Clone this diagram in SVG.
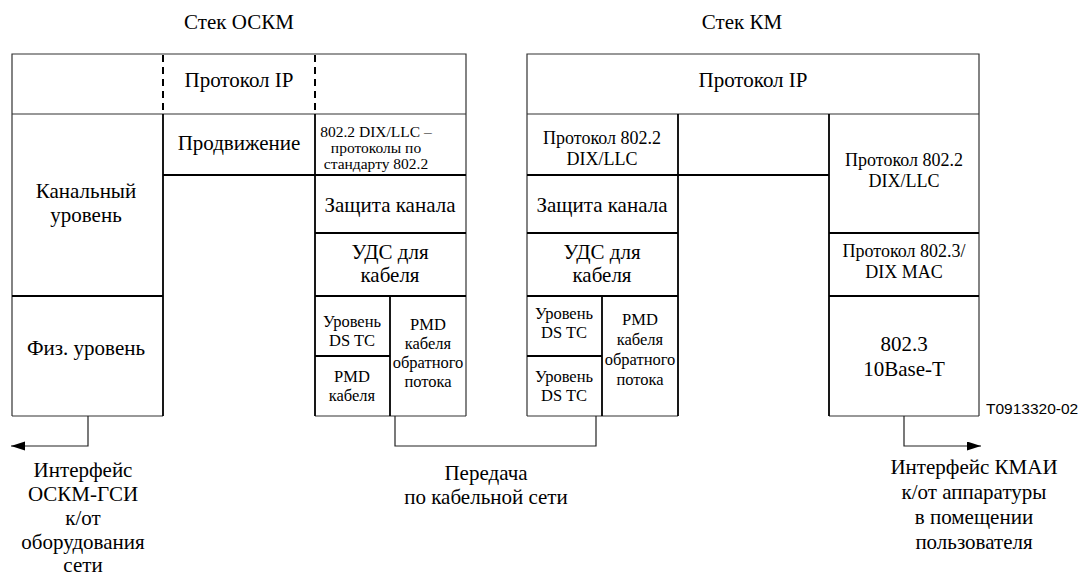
<svg xmlns="http://www.w3.org/2000/svg" width="1080" height="576" viewBox="0 0 1080 576">
<style>
.sf{font-family:'Liberation Serif','Times New Roman',Times,serif}
text{fill:#000;text-anchor:middle}
.t21{font-size:21px}
.t18{font-size:18px}
.t16{font-size:16.5px}
.t15{font-size:15.5px}
.id{font-family:'Liberation Sans',Arial,sans-serif;font-size:15.5px;text-anchor:start}
.ol{stroke:#333;stroke-width:1.2;fill:none}
.th{stroke:#000;stroke-width:1.8;fill:none}
.dash{stroke:#000;stroke-width:2;stroke-dasharray:7 5;fill:none}
.cn{stroke:#222;stroke-width:1.2;fill:none}
</style>
<defs>
<marker id="ah" markerUnits="userSpaceOnUse" markerWidth="15" markerHeight="10" refX="14" refY="4.5" orient="auto">
<path d="M0,0 L14,4.5 L0,9 z" fill="#000"/>
</marker>
</defs>

<g class="sf" font-family="Liberation Serif, Times New Roman, serif">
<text class="t21" x="239" y="29">Стек ОСКМ</text>
<text class="t21" x="742" y="29">Стек КМ</text>

<g id="stack-left">
<path class="ol" d="M12,416 V54 H466 V416 M12,416 H163 M315,416 H466 M12,114 H466"/>
<path class="dash" d="M163,55 V114 M315,55 V114"/>
<path class="th" d="M163,114 V416 M315,114 V416 M163,175 H466 M315,233 H466 M12,296 H163 M315,296 H466 M390,296 V416 M315,356 H390"/>
</g>
<g id="l-ip"><text class="t21" x="239" y="87">Протокол IP</text></g>
<g id="l-kanal"><text class="t21" x="86" y="198">Канальный</text><text class="t21" x="86" y="222">уровень</text></g>
<g id="l-fiz"><text class="t21" x="86" y="355">Физ. уровень</text></g>
<g id="l-prod"><text class="t21" x="239" y="150">Продвижение</text></g>
<g id="l-8022"><text class="t15" x="376" y="137">802.2 DIX/LLC –</text><text class="t15" x="376" y="153">протоколы по</text><text class="t15" x="376" y="169">стандарту 802.2</text></g>
<g id="l-zash"><text class="t21" x="390" y="212">Защита канала</text></g>
<g id="l-uds"><text class="t21" x="390" y="259">УДС для</text><text class="t21" x="390" y="282">кабеля</text></g>
<g id="l-dstc"><text class="t16" x="352" y="327">Уровень</text><text class="t16" x="352" y="346">DS TC</text></g>
<g id="l-pmd"><text class="t16" x="352" y="382">PMD</text><text class="t16" x="352" y="401">кабеля</text></g>
<g id="l-pmdup"><text class="t16" x="428" y="330">PMD</text><text class="t16" x="428" y="349">кабеля</text><text class="t16" x="428" y="368">обратного</text><text class="t16" x="428" y="387">потока</text></g>

<g id="stack-right">
<path class="ol" d="M527,416 V54 H979 V416 M527,416 H678 M829,416 H979 M527,114 H979"/>
<path class="th" d="M678,114 V416 M829,114 V416 M527,175 H829 M527,233 H678 M829,233 H979 M527,296 H678 M829,296 H979 M602,296 V416 M527,356 H602"/>
</g>
<g id="r-ip"><text class="t21" x="753" y="87">Протокол IP</text></g>
<g id="r-llc1"><text class="t18" x="602" y="144">Протокол 802.2</text><text class="t18" x="602" y="165">DIX/LLC</text></g>
<g id="r-zash"><text class="t21" x="602" y="212">Защита канала</text></g>
<g id="r-uds"><text class="t21" x="602" y="259">УДС для</text><text class="t21" x="602" y="282">кабеля</text></g>
<g id="r-dstc1"><text class="t16" x="564" y="319">Уровень</text><text class="t16" x="564" y="338">DS TC</text></g>
<g id="r-dstc2"><text class="t16" x="564" y="382">Уровень</text><text class="t16" x="564" y="401">DS TC</text></g>
<g id="r-pmdup"><text class="t16" x="640" y="325">PMD</text><text class="t16" x="640" y="345">кабеля</text><text class="t16" x="640" y="365">обратного</text><text class="t16" x="640" y="385">потока</text></g>
<g id="r-llc2"><text class="t18" x="904" y="166">Протокол 802.2</text><text class="t18" x="904" y="187">DIX/LLC</text></g>
<g id="r-mac"><text class="t18" x="904" y="257">Протокол 802.3/</text><text class="t18" x="904" y="278">DIX MAC</text></g>
<g id="r-10bt"><text class="t21" x="904" y="351">802.3</text><text class="t21" x="904" y="376">10Base-T</text></g>

<g id="connectors">
<path class="cn" d="M88,416 V446 H11" marker-end="url(#ah)"/>
<path class="cn" d="M395,416 V446 H596 V416"/>
<path class="cn" d="M904,416 V446 H981" marker-end="url(#ah)"/>
</g>

<g id="lbl-left"><text class="t21" x="83" y="477">Интерфейс</text><text class="t21" x="83" y="501">ОСКМ-ГСИ</text><text class="t21" x="83" y="525">к/от</text><text class="t21" x="83" y="549">оборудования</text><text class="t21" x="83" y="572">сети</text></g>
<g id="lbl-mid"><text class="t21" x="486" y="480">Передача</text><text class="t21" x="486" y="504">по кабельной сети</text></g>
<g id="lbl-right"><text class="t21" x="974" y="474">Интерфейс КМАИ</text><text class="t21" x="974" y="499">к/от аппаратуры</text><text class="t21" x="974" y="524">в помещении</text><text class="t21" x="974" y="549">пользователя</text></g>
</g>
<text class="id" x="986" y="414">T0913320-02</text>
</svg>
